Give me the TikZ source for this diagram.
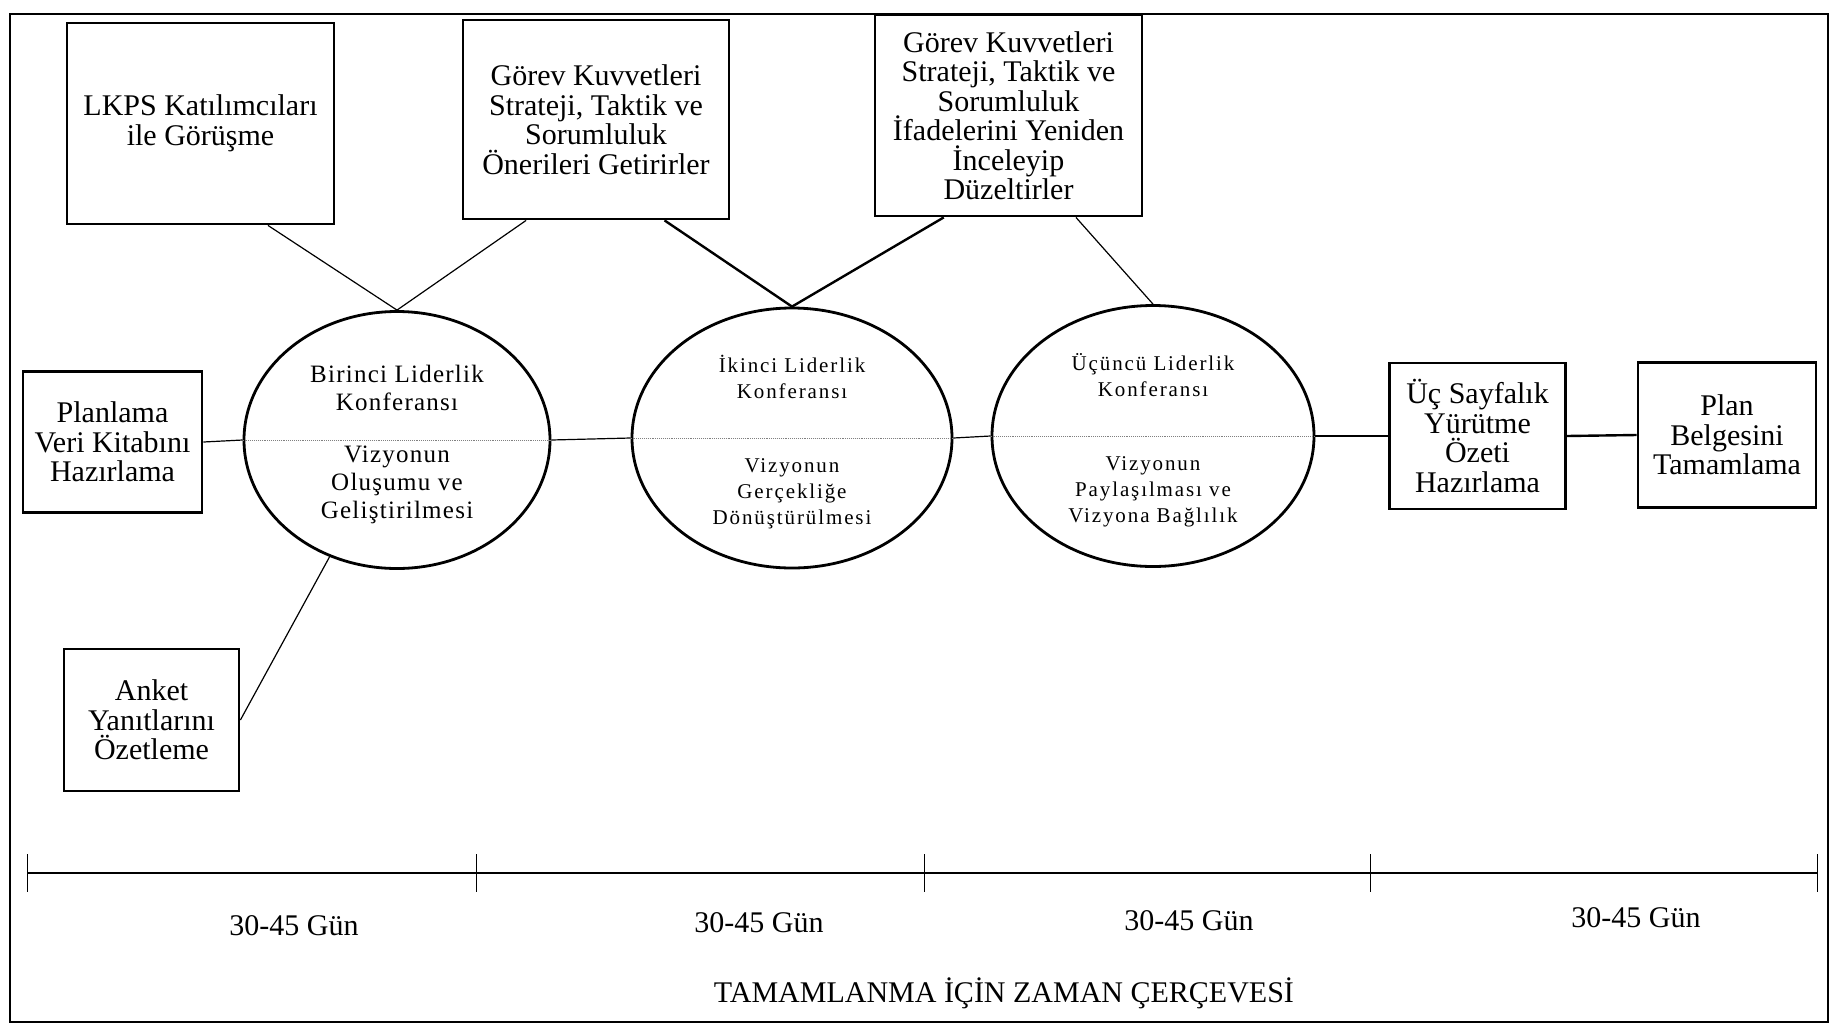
\documentclass[tikz,border=0pt]{standalone}
\usepackage{fontspec}
\setmainfont{Liberation Serif}
\newfontfamily\spacedA[LetterSpace=5]{Liberation Serif}
\newfontfamily\spacedB[LetterSpace=9]{Liberation Serif}
\usetikzlibrary{shapes.geometric,calc}
\begin{document}
\begin{tikzpicture}[x=1pt,y=-1pt,
  box/.style={draw, line width=2.8pt, align=center, inner sep=0pt,
    font=\fontsize{30}{29.5}\selectfont},
  oval/.style={draw, ellipse, line width=2.8pt, inner sep=0pt},
  etxtA/.style={align=center, inner sep=0pt, font=\spacedA\fontsize{25}{28}\selectfont},
  etxtB/.style={align=center, inner sep=0pt, font=\spacedB\fontsize{21}{26}\selectfont},
  conn/.style={line width=1.2pt},
  connb/.style={line width=2.4pt},
  mid/.style={densely dotted, gray, line width=0.9pt},
  lbl/.style={inner sep=0pt, font=\fontsize{30}{30}\selectfont}
]
\useasboundingbox (0,0) rectangle (1837,1026);
\draw[line width=1.8pt] (10,14) rectangle (1828,1022);

% top boxes
\node[box, minimum width=267pt, minimum height=201pt] (lkps) at (200.5,123.5)
  {LKPS Katılımcıları\\ile Görüşme};
\node[box, minimum width=266pt, minimum height=199pt] (g1) at (596,119.5)
  {Görev Kuvvetleri\\Strateji, Taktik ve\\Sorumluluk\\Önerileri Getirirler};
\node[box, minimum width=267pt, minimum height=201pt] (g2) at (1008.5,115.5)
  {Görev Kuvvetleri\\Strateji, Taktik ve\\Sorumluluk\\İfadelerini Yeniden\\İnceleyip\\Düzeltirler};

% side boxes
\node[box, minimum width=179pt, minimum height=141pt] (plan) at (112.5,442)
  {Planlama\\Veri Kitabını\\Hazırlama};
\node[box, minimum width=175pt, minimum height=142pt] (anket) at (151.5,720)
  {Anket\\Yanıtlarını\\Özetleme};
\node[box, minimum width=176pt, minimum height=146pt] (ozet) at (1477.5,436)
  {Üç Sayfalık\\Yürütme\\Özeti\\Hazırlama};
\node[box, minimum width=178pt, minimum height=145pt] (belge) at (1727,435)
  {Plan\\Belgesini\\Tamamlama};

% ellipses
\node[oval, minimum width=306pt, minimum height=257pt] (e1) at (397,440) {};
\node[oval, minimum width=320pt, minimum height=260pt] (e2) at (792,438) {};
\node[oval, minimum width=322pt, minimum height=261pt] (e3) at (1153,436) {};

\draw[mid] (e1.west) -- (e1.east);
\draw[mid] (e2.west) -- (e2.east);
\draw[mid] (e3.west) -- (e3.east);

\node[etxtA] (e1u) at (397,388) {Birinci Liderlik\\Konferansı};
\node[etxtA] (e1l) at (397,485) {Vizyonun\\Oluşumu ve\\Geliştirilmesi};
\node[etxtB] (e2u) at (792,377) {İkinci Liderlik\\Konferansı};
\node[etxtB] (e2l) at (792,494) {Vizyonun\\Gerçekliğe\\Dönüştürülmesi};
\node[etxtB] (e3u) at (1153,375) {Üçüncü Liderlik\\Konferansı};
\node[etxtB] (e3l) at (1153,492) {Vizyonun\\Paylaşılması ve\\Vizyona Bağlılık};

% connectors
\draw[conn] ($(lkps.south west)!0.75!(lkps.south east)$) -- (e1.north);
\draw[conn] ($(g1.south west)!0.24!(g1.south east)$) -- (e1.north);
\draw[connb] ($(g1.south west)!0.755!(g1.south east)$) -- (e2.north);
\draw[connb] ($(g2.south west)!0.26!(g2.south east)$) -- (e2.north);
\draw[conn] ($(g2.south west)!0.75!(g2.south east)$) -- (e3.north);
\draw[conn] (anket.east) -- (e1.240);

\draw[conn] (plan.east) -- (e1.west);
\draw[conn] (e1.east) -- (e2.west);
\draw[conn] (e2.east) -- (e3.west);
\draw[conn] (e3.east) -- (ozet.west);
\draw[connb] (ozet.east) -- (belge.west);

% timeline
\coordinate (t0) at (27,873);
\coordinate (t1) at (476,873);
\coordinate (t2) at (924,873);
\coordinate (t3) at (1370,873);
\coordinate (t4) at (1817,873);
\draw[line width=2pt] (t0) -- (t4);
\foreach \t in {t0,t1,t2,t3,t4}
  \draw[line width=1pt] ($(\t)+(0,-19)$) -- ($(\t)+(0,19)$);

\node[lbl] (d1) at (294,926) {30-45 Gün};
\node[lbl] (d2) at (759,923) {30-45 Gün};
\node[lbl] (d3) at (1189,921) {30-45 Gün};
\node[lbl] (d4) at (1636,918) {30-45 Gün};
\node[lbl] (title) at (1004,993) {TAMAMLANMA İÇİN ZAMAN ÇERÇEVESİ};
\end{tikzpicture}
\end{document}
